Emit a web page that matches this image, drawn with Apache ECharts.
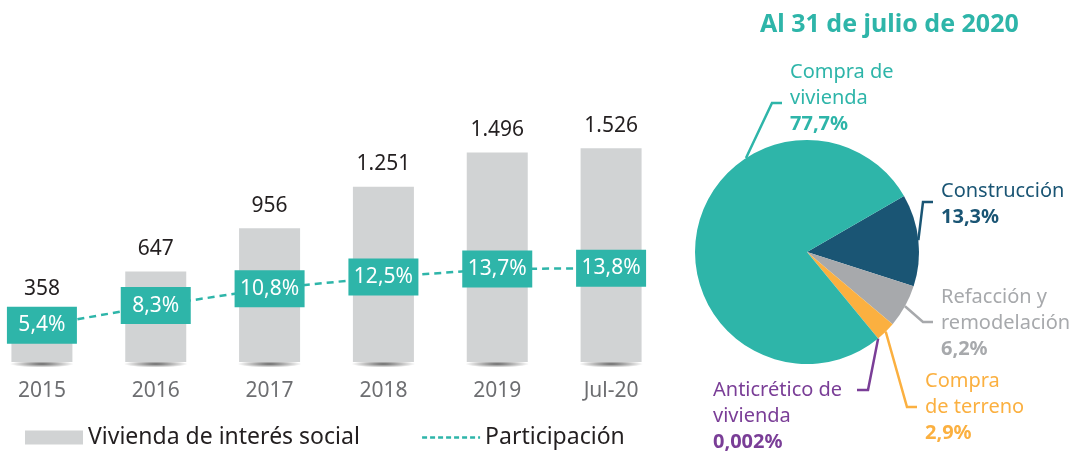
<!DOCTYPE html>
<html>
<head>
<meta charset="utf-8">
<script src="https://cdn.jsdelivr.net/npm/echarts@6/dist/echarts.min.js"></script>
<style>
  html, body { margin: 0; padding: 0; background: #fff; }
  #chart { width: 1082px; height: 451px; }
</style>
</head>
<body>
<div id="chart"></div>
<script>
// datos
const years = ['2015', '2016', '2017', '2018', '2019', 'Jul-20'];
const viviendaSocial = [358, 647, 956, 1251, 1496, 1526];
const participacion = [5.4, 8.3, 10.8, 12.5, 13.7, 13.8];

const destinoNombres = ['Construcción', 'Refacción y\nremodelación', 'Compra\nde terreno', 'Anticrético de\nvivienda', 'Compra de\nvivienda'];
const destinoValores = [13.3, 6.2, 2.9, 0.002, 77.7];
const destinoColores = ['#1a5574', '#a7a9ac', '#fbb040', '#7a3e97', '#2eb5a9'];

const teal = '#2eb5a9';
const font = 'Noto Sans';

// ubicacion de las etiquetas del pie (x, y = esquina sup. izq. del texto, hy = altura del gancho)
const spots = [
  { x: 941, y: 178, hy: 202, side: 'r' },
  { x: 941, y: 284, hy: 322, side: 'r' },
  { x: 925, y: 368, hy: 407, side: 'r' },
  { x: 713, y: 377, hy: 390, side: 'l', right: 857 },
  { x: 790, y: 59, hy: 103, side: 'r', angle: 123 }
];
const pieCenter = [807, 252];
const pieRadius = 112;

function fmt(v) {
  return String(v).replace('.', ',');
}

let myChart = echarts.init(document.getElementById('chart'));

let option = {
  animation: false,
  textStyle: { fontFamily: font },
  title: {
    text: 'Al 31 de julio de 2020',
    left: 755,
    top: 7,
    textStyle: { color: teal, fontSize: 25, fontWeight: 'bold', fontFamily: font }
  },
  legend: {
    left: 25,
    top: 426,
    padding: 0,
    itemWidth: 58,
    itemHeight: 14,
    itemGap: 61,
    textStyle: { fontSize: 23, color: '#231f20', fontFamily: font },
    data: [
      { name: 'Vivienda de interés social', icon: 'rect' },
      { name: 'Participación', itemStyle: { opacity: 0 }, lineStyle: { type: [5, 3], width: 2.5 } }
    ]
  },
  grid: { left: -15, width: 683, top: 40, bottom: 89, outerBoundsMode: 'none' },
  xAxis: {
    type: 'category',
    data: years,
    axisLine: { show: false },
    axisTick: { show: false },
    axisLabel: { color: '#6d6e71', fontSize: 21, margin: 19, fontFamily: font }
  },
  yAxis: [
    { type: 'value', min: 0, max: 2300, show: false },
    { type: 'value', min: 0, max: 47.4, show: false }
  ],
  series: [
    {
      // sombra bajo las barras
      type: 'scatter',
      data: viviendaSocial.map(() => 0),
      symbol: 'circle',
      symbolSize: [64, 7],
      symbolOffset: [0, 2],
      silent: true,
      z: 1,
      itemStyle: {
        color: new echarts.graphic.RadialGradient(0.5, 0.5, 0.5, [
          { offset: 0, color: 'rgba(0,0,0,0.75)' },
          { offset: 1, color: 'rgba(0,0,0,0)' }
        ])
      }
    },
    {
      name: 'Vivienda de interés social',
      type: 'bar',
      data: viviendaSocial,
      barWidth: 61,
      z: 2,
      itemStyle: { color: '#d1d3d4' },
      label: {
        show: true,
        position: 'top',
        distance: 12,
        fontSize: 21,
        color: '#231f20',
        fontFamily: font,
        formatter: p => p.value.toLocaleString('de-DE')
      }
    },
    {
      name: 'Participación',
      type: 'line',
      yAxisIndex: 1,
      data: participacion,
      symbol: 'rect',
      symbolSize: 1,
      z: 3,
      itemStyle: { color: teal },
      lineStyle: { color: teal, width: 2.5, type: [7, 5] },
      label: {
        show: true,
        position: 'inside',
        backgroundColor: teal,
        color: '#fff',
        fontSize: 21,
        fontFamily: font,
        width: 48,
        align: 'center',
        lineHeight: 25,
        padding: [6, 11],
        formatter: p => fmt(p.value) + '%'
      }
    },
    {
      name: 'Destino',
      type: 'pie',
      center: pieCenter,
      radius: pieRadius,
      startAngle: 30,
      clockwise: true,
      data: destinoValores.map((v, i) => ({
        name: destinoNombres[i],
        value: v,
        itemStyle: { color: destinoColores[i] },
        label: {
          rich: {
            n: { color: destinoColores[i], fontSize: 20, lineHeight: 26, fontFamily: font },
            v: { color: destinoColores[i], fontSize: 20, lineHeight: 26, fontWeight: 'bold', fontFamily: font }
          }
        },
        labelLine: { lineStyle: { color: destinoColores[i], width: 2.5 } }
      })),
      label: {
        show: true,
        position: 'outside',
        align: 'left',
        formatter: p => '{n|' + p.name.split('\n').join('}\n{n|') + '}\n{v|' + fmt(p.value) + '%}'
      },
      labelLine: { show: true, length: 10, length2: 10, smooth: false },
      labelLayout: function (params) {
        const s = spots[params.dataIndex];
        let start = params.labelLinePoints ? params.labelLinePoints[0] : [0, 0];
        if (s.angle !== undefined) {
          const a = s.angle * Math.PI / 180;
          start = [pieCenter[0] + pieRadius * Math.cos(a), pieCenter[1] - pieRadius * Math.sin(a)];
        }
        let elbow, end;
        if (s.side === 'r') {
          const dx = s.x - 8;
          elbow = [dx - 10, s.hy];
          end = [dx, s.hy];
        } else {
          elbow = [s.right + 11, s.hy];
          end = [s.right, s.hy];
        }
        return {
          x: s.x,
          y: s.y,
          align: 'left',
          verticalAlign: 'top',
          labelLinePoints: [start, elbow, end]
        };
      }
    }
  ]
};

myChart.setOption(option);
window.addEventListener('resize', function () { myChart.resize(); });
</script>
</body>
</html>
